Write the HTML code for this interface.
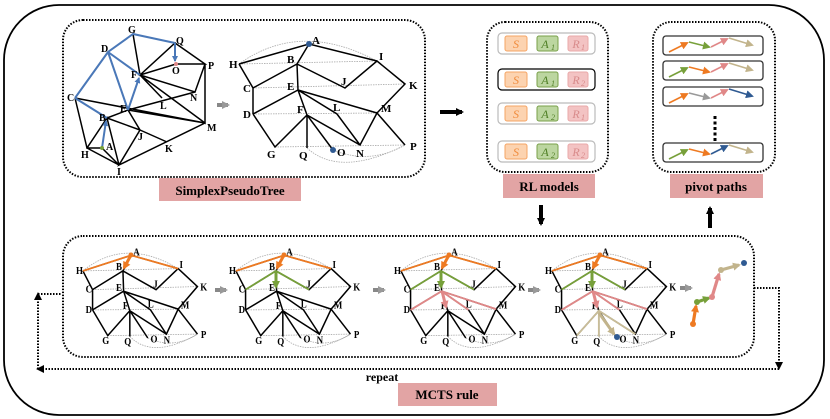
<!DOCTYPE html>
<html><head><meta charset="utf-8"><style>
html,body{margin:0;padding:0;background:#fff}
svg{display:block}
text{font-family:"Liberation Serif",serif;font-weight:bold}
</style></head><body>
<svg width="830" height="419" viewBox="0 0 830 419" xmlns="http://www.w3.org/2000/svg">
<defs>
<marker id="ab" markerWidth="8" markerHeight="8" refX="6" refY="4" orient="auto" markerUnits="userSpaceOnUse"><path d="M0,0 L8,4 L0,8 z" fill="#000"/></marker>
<marker id="mblue" markerWidth="6" markerHeight="6" refX="5" refY="3" orient="auto" markerUnits="userSpaceOnUse"><path d="M0,0 L6,3 L0,6 z" fill="#4a78b8"/></marker>
<marker id="mor" markerWidth="8" markerHeight="8" refX="6" refY="4" orient="auto" markerUnits="userSpaceOnUse"><path d="M0,0 L8,4 L0,8 z" fill="#ee7a22"/></marker>
<marker id="mgr" markerWidth="8" markerHeight="8" refX="6" refY="4" orient="auto" markerUnits="userSpaceOnUse"><path d="M0,0 L8,4 L0,8 z" fill="#77a03a"/></marker>
<marker id="mpk" markerWidth="8" markerHeight="8" refX="6" refY="4" orient="auto" markerUnits="userSpaceOnUse"><path d="M0,0 L8,4 L0,8 z" fill="#e08888"/></marker>
<marker id="mtn" markerWidth="8" markerHeight="8" refX="6" refY="4" orient="auto" markerUnits="userSpaceOnUse"><path d="M0,0 L8,4 L0,8 z" fill="#c2b48c"/></marker>
<marker id="mgy" markerWidth="8" markerHeight="8" refX="6" refY="4" orient="auto" markerUnits="userSpaceOnUse"><path d="M0,0 L8,4 L0,8 z" fill="#999"/></marker>
<marker id="mbl" markerWidth="8" markerHeight="8" refX="6" refY="4" orient="auto" markerUnits="userSpaceOnUse"><path d="M0,0 L8,4 L0,8 z" fill="#2f5a92"/></marker>

<g id="tree">
 <g stroke="#aaa" stroke-width="0.8" fill="none" stroke-dasharray="1.5 1">
  <path d="M239,64 L377,61 M253,88 L405,84 M253,114 L377,113 M275,147 L405,145" vector-effect="non-scaling-stroke"/>
  <path d="M239,64 Q300,20 377,61" vector-effect="non-scaling-stroke"/>
  <path d="M307,148 Q340,178 405,145 M333,150 Q370,165 405,145" vector-effect="non-scaling-stroke"/>
 </g>
 <g stroke="#000" stroke-width="1.5" fill="none">
  <path vector-effect="non-scaling-stroke" d="M239,64 L309,44 L377,61 M309,44 L297,64 M239,64 L253,88 L253,114 M297,64 L253,88 M297,64 L298,90 M297,64 L345,88 L377,61 L405,84 L377,113 M298,90 L253,114 M298,90 L307,115 M298,90 L337,114 L360,145 M298,90 L377,113 M253,114 L275,147 L307,115 M307,115 L307,148 M307,115 L333,150 M307,115 L360,145 L377,113 L405,145"/>
 </g>
 <g fill="#000">
  <text x="312" y="44">A</text><text x="379" y="60">I</text><text x="229" y="68">H</text><text x="287" y="63">B</text>
  <text x="341" y="85">J</text><text x="409" y="89">K</text><text x="243" y="92">C</text><text x="287" y="90">E</text>
  <text x="243" y="118">D</text><text x="297" y="113">F</text><text x="333" y="111">L</text><text x="381" y="112">M</text>
  <text x="267" y="158">G</text><text x="299" y="159">Q</text><text x="337" y="156">O</text><text x="356" y="157">N</text><text x="410" y="150">P</text>
 </g>
</g>
</defs>

<!-- outer frame -->
<rect x="4" y="5" width="820" height="410" rx="55" fill="none" stroke="#000" stroke-width="1.8"/>

<!-- top-left dotted box -->
<rect x="63" y="20" width="362" height="157" rx="20" fill="none" stroke="#000" stroke-width="2" stroke-dasharray="1.5 1.5"/>
<rect x="159" y="178" width="142" height="23" fill="#e2a4a4"/>
<text x="230" y="195" font-size="13" text-anchor="middle">SimplexPseudoTree</text>

<!-- left graph -->
<g stroke="#000" stroke-width="1.5" fill="none">
 <path d="M133,34 L140,75 L175,43 L205,64 L176,64 L140,75 L195,92 L205,64 L205,123 L140,75 M140,75 L162,98 M75,98 L205,123 M128,110 L195,92 M75,98 L87,148 L102,148 L119,165 L87,148 L107,118 L119,165 M107,118 L128,110 L140,130 L119,165 L205,123 M107,118 L140,130 M128,110 L205,123 M140,130 L167,142"/>
</g>
<g stroke="#4a78b8" stroke-width="2" fill="none">
 <path d="M75,98 L108,52 L133,34 L175,43 M108,52 L128,110 M108,52 L140,75 M75,98 L107,118"/>
 <path d="M175,43 L175,61" marker-end="url(#mblue)"/>
 <path d="M128,110 L139,78" marker-end="url(#mblue)"/>
 <path d="M102,148 L106,121" marker-end="url(#mblue)"/>
</g>
<circle cx="176" cy="64" r="2" fill="#e08888"/><circle cx="102" cy="148" r="2" fill="#77a03a"/>
<g font-size="10"><text x="128" y="33">G</text><text x="101" y="52">D</text><text x="176" y="44">Q</text><text x="172" y="74">O</text><text x="208" y="69">P</text><text x="131" y="78">F</text><text x="67" y="101">C</text><text x="120" y="112">E</text><text x="160" y="109">L</text><text x="190" y="101">N</text><text x="207" y="131">M</text><text x="99" y="121">B</text><text x="106" y="150">A</text><text x="81" y="158">H</text><text x="117" y="175">I</text><text x="138" y="140">J</text><text x="165" y="152">K</text></g>

<!-- gray arrow -->
<path d="M217,105 L228,105" stroke="#888" stroke-width="4" marker-end="url(#mgy)"/>

<!-- top middle tree -->
<use href="#tree" font-size="11"/>
<circle cx="309" cy="44" r="3" fill="#2f5a92"/><circle cx="333" cy="150" r="3" fill="#2f5a92"/>

<!-- black arrows -->
<path d="M440,112 L462,112" stroke="#000" stroke-width="4" marker-end="url(#ab)"/>
<path d="M541,205 L541,224" stroke="#000" stroke-width="4" marker-end="url(#ab)"/>
<path d="M710,228 L710,208" stroke="#000" stroke-width="4" marker-end="url(#ab)"/>

<!-- RL models -->
<rect x="487" y="22" width="121" height="150" rx="18" fill="none" stroke="#000" stroke-width="2" stroke-dasharray="1.5 1.5"/>
<rect x="498" y="33" width="97" height="21" rx="4" fill="#fff" stroke="#bbb" stroke-width="1.2"/>
<rect x="498" y="69" width="97" height="21" rx="4" fill="#fff" stroke="#000" stroke-width="1.2"/>
<rect x="498" y="103" width="97" height="21" rx="4" fill="#fff" stroke="#bbb" stroke-width="1.2"/>
<rect x="498" y="141" width="97" height="21" rx="4" fill="#fff" stroke="#bbb" stroke-width="1.2"/>
<g style="font-weight:normal;font-style:italic" font-size="12">
 <g>
  <rect x="505" y="36" width="22" height="15" rx="2" fill="#fcd3b0" stroke="#f5a464"/><text x="516" y="48" text-anchor="middle" fill="#f08a3a" style="font-weight:normal">S</text>
  <rect x="537" y="36" width="21" height="15" rx="2" fill="#bcd6a0" stroke="#7aa04a"/><text x="545" y="48" text-anchor="middle" fill="#4f7f25" style="font-weight:normal">A</text><text x="551" y="50" font-size="8" fill="#4f7f25" style="font-weight:normal">1</text>
  <rect x="568" y="36" width="20" height="15" rx="2" fill="#f3c3c3" stroke="#eaa8a8"/><text x="576" y="48" text-anchor="middle" fill="#d88a8a" style="font-weight:normal">R</text><text x="581" y="50" font-size="8" fill="#d88a8a" style="font-weight:normal">1</text>
 </g>
 <g transform="translate(0,36)">
  <rect x="505" y="36" width="22" height="15" rx="2" fill="#fcd3b0" stroke="#f5a464"/><text x="516" y="48" text-anchor="middle" fill="#f08a3a" style="font-weight:normal">S</text>
  <rect x="537" y="36" width="21" height="15" rx="2" fill="#bcd6a0" stroke="#7aa04a"/><text x="545" y="48" text-anchor="middle" fill="#4f7f25" style="font-weight:normal">A</text><text x="551" y="50" font-size="8" fill="#4f7f25" style="font-weight:normal">1</text>
  <rect x="568" y="36" width="20" height="15" rx="2" fill="#f3c3c3" stroke="#eaa8a8"/><text x="576" y="48" text-anchor="middle" fill="#d88a8a" style="font-weight:normal">R</text><text x="581" y="50" font-size="8" fill="#d88a8a" style="font-weight:normal">2</text>
 </g>
 <g transform="translate(0,70)">
  <rect x="505" y="36" width="22" height="15" rx="2" fill="#fcd3b0" stroke="#f5a464"/><text x="516" y="48" text-anchor="middle" fill="#f08a3a" style="font-weight:normal">S</text>
  <rect x="537" y="36" width="21" height="15" rx="2" fill="#bcd6a0" stroke="#7aa04a"/><text x="545" y="48" text-anchor="middle" fill="#4f7f25" style="font-weight:normal">A</text><text x="551" y="50" font-size="8" fill="#4f7f25" style="font-weight:normal">2</text>
  <rect x="568" y="36" width="20" height="15" rx="2" fill="#f3c3c3" stroke="#eaa8a8"/><text x="576" y="48" text-anchor="middle" fill="#d88a8a" style="font-weight:normal">R</text><text x="581" y="50" font-size="8" fill="#d88a8a" style="font-weight:normal">1</text>
 </g>
 <g transform="translate(0,108)">
  <rect x="505" y="36" width="22" height="15" rx="2" fill="#fcd3b0" stroke="#f5a464"/><text x="516" y="48" text-anchor="middle" fill="#f08a3a" style="font-weight:normal">S</text>
  <rect x="537" y="36" width="21" height="15" rx="2" fill="#bcd6a0" stroke="#7aa04a"/><text x="545" y="48" text-anchor="middle" fill="#4f7f25" style="font-weight:normal">A</text><text x="551" y="50" font-size="8" fill="#4f7f25" style="font-weight:normal">2</text>
  <rect x="568" y="36" width="20" height="15" rx="2" fill="#f3c3c3" stroke="#eaa8a8"/><text x="576" y="48" text-anchor="middle" fill="#d88a8a" style="font-weight:normal">R</text><text x="581" y="50" font-size="8" fill="#d88a8a" style="font-weight:normal">2</text>
 </g>
</g>
<rect x="503" y="174" width="92" height="24" fill="#e2a4a4"/>
<text x="549" y="191" font-size="13" text-anchor="middle">RL models</text>

<!-- pivot paths -->
<rect x="653" y="22" width="122" height="150" rx="18" fill="none" stroke="#000" stroke-width="2" stroke-dasharray="1.5 1.5"/>
<g fill="none" stroke="#333" stroke-width="1.3">
 <rect x="663" y="36" width="100" height="19" rx="3"/><rect x="663" y="61" width="100" height="19" rx="3"/>
 <rect x="663" y="87" width="100" height="19" rx="3"/><rect x="663" y="143" width="100" height="19" rx="3"/>
</g>
<g fill="none" stroke-width="1.6">
 <g><path d="M669,52 L687,43" stroke="#ee7a22" marker-end="url(#mor)"/><path d="M689,42 L709,47" stroke="#77a03a" marker-end="url(#mgr)"/><path d="M711,47 L727,39" stroke="#e08888" marker-end="url(#mpk)"/><path d="M729,38 L752,45" stroke="#c2b48c" marker-end="url(#mtn)"/></g>
 <g transform="translate(0,25)"><path d="M669,52 L687,43" stroke="#77a03a" marker-end="url(#mgr)"/><path d="M689,42 L709,47" stroke="#ee7a22" marker-end="url(#mor)"/><path d="M711,47 L727,39" stroke="#e08888" marker-end="url(#mpk)"/><path d="M729,38 L752,45" stroke="#c2b48c" marker-end="url(#mtn)"/></g>
 <g transform="translate(0,51)"><path d="M669,52 L687,43" stroke="#ee7a22" marker-end="url(#mor)"/><path d="M689,42 L709,47" stroke="#999" marker-end="url(#mgy)"/><path d="M711,47 L727,39" stroke="#e08888" marker-end="url(#mpk)"/><path d="M729,38 L752,45" stroke="#2f5a92" marker-end="url(#mbl)"/></g>
 <g transform="translate(0,107)"><path d="M669,52 L687,43" stroke="#77a03a" marker-end="url(#mgr)"/><path d="M689,42 L709,47" stroke="#ee7a22" marker-end="url(#mor)"/><path d="M711,47 L727,39" stroke="#2f5a92" marker-end="url(#mbl)"/><path d="M729,38 L752,45" stroke="#c2b48c" marker-end="url(#mtn)"/></g>
</g>
<path d="M715,116 L715,141" stroke="#000" stroke-width="3" stroke-dasharray="3 2.5"/>
<rect x="670" y="174" width="93" height="24" fill="#e2a4a4"/>
<text x="716" y="191" font-size="13" text-anchor="middle">pivot paths</text>

<!-- bottom dotted box -->
<rect x="63" y="236" width="691" height="121" rx="20" fill="none" stroke="#000" stroke-width="2" stroke-dasharray="1.5 1.5"/>

<!-- bottom trees -->
<g transform="translate(-82,221) scale(0.69,0.78)" font-size="13">
 <use href="#tree"/>
 <path d="M239,64 L309,44 L377,61" stroke="#ee7a22" stroke-width="1.8" fill="none" vector-effect="non-scaling-stroke"/>
</g>
<g transform="translate(71,221) scale(0.69,0.78)" font-size="13">
 <use href="#tree"/>
 <path d="M239,64 L309,44 L377,61" stroke="#ee7a22" stroke-width="1.8" fill="none" vector-effect="non-scaling-stroke"/>
 <path d="M253,88 L297,64 L345,88" stroke="#77a03a" stroke-width="1.8" fill="none" vector-effect="non-scaling-stroke"/>
</g>
<g transform="translate(236,221) scale(0.69,0.78)" font-size="13">
 <use href="#tree"/>
 <path d="M239,64 L309,44 L377,61" stroke="#ee7a22" stroke-width="1.8" fill="none" vector-effect="non-scaling-stroke"/>
 <path d="M253,88 L297,64 L345,88" stroke="#77a03a" stroke-width="1.8" fill="none" vector-effect="non-scaling-stroke"/>
 <path d="M253,114 L298,90 L337,114 M298,90 L377,113" stroke="#e08888" stroke-width="1.8" fill="none" vector-effect="non-scaling-stroke"/>
</g>
<g transform="translate(387,221) scale(0.69,0.78)" font-size="13">
 <use href="#tree"/>
 <path d="M239,64 L309,44 L377,61" stroke="#ee7a22" stroke-width="1.8" fill="none" vector-effect="non-scaling-stroke"/>
 <path d="M253,88 L297,64 L345,88" stroke="#77a03a" stroke-width="1.8" fill="none" vector-effect="non-scaling-stroke"/>
 <path d="M253,114 L298,90 L337,114 M298,90 L377,113" stroke="#e08888" stroke-width="1.8" fill="none" vector-effect="non-scaling-stroke"/>
 <path d="M275,147 L307,115 L307,148 M307,115 L360,145" stroke="#c9bd98" stroke-width="1.8" fill="none" vector-effect="non-scaling-stroke"/>
</g>
<!-- thick arrows in bottom trees -->
<g fill="none" stroke-width="3">
 <g><circle cx="131" cy="255" r="2.5" fill="#ee7a22" stroke="none"/><path d="M131,255 L124,268" stroke="#ee7a22" marker-end="url(#mor)"/></g>
 <g transform="translate(153,0)"><circle cx="131" cy="255" r="2.5" fill="#ee7a22" stroke="none"/><path d="M131,255 L124,268" stroke="#ee7a22" marker-end="url(#mor)"/><path d="M123,271 L123,287" stroke="#77a03a" marker-end="url(#mgr)"/></g>
 <g transform="translate(318,0)"><circle cx="131" cy="255" r="2.5" fill="#ee7a22" stroke="none"/><path d="M131,255 L124,268" stroke="#ee7a22" marker-end="url(#mor)"/><path d="M123,271 L123,287" stroke="#77a03a" marker-end="url(#mgr)"/><path d="M124,291 L128,307" stroke="#e08888" marker-end="url(#mpk)"/></g>
 <g transform="translate(469,0)"><circle cx="131" cy="255" r="2.5" fill="#ee7a22" stroke="none"/><path d="M131,255 L124,268" stroke="#ee7a22" marker-end="url(#mor)"/><path d="M123,271 L123,287" stroke="#77a03a" marker-end="url(#mgr)"/><path d="M124,291 L128,307" stroke="#e08888" marker-end="url(#mpk)"/><path d="M130,313 L145,334" stroke="#c2b48c" marker-end="url(#mtn)"/><circle cx="148" cy="337" r="3" fill="#2f5a92" stroke="none"/></g>
</g>

<!-- gray arrows bottom -->
<g stroke="#888" stroke-width="4"><path d="M215,290 L226,290" marker-end="url(#mgy)"/><path d="M373,290 L384,290" marker-end="url(#mgy)"/><path d="M528,290 L539,290" marker-end="url(#mgy)"/><path d="M680,288 L691,288" marker-end="url(#mgy)"/></g>

<!-- resulting path -->
<g fill="none" stroke-width="3.2">
 <path d="M693,324 L696,306" stroke="#ee7a22" marker-end="url(#mor)"/>
 <path d="M697,302 L709,298" stroke="#77a03a" marker-end="url(#mgr)"/>
 <path d="M712,297 L719,274" stroke="#e08888" marker-end="url(#mpk)"/>
 <path d="M721,270 L739,265" stroke="#c2b48c" marker-end="url(#mtn)"/>
</g>
<circle cx="693" cy="324" r="3" fill="#ee7a22"/><circle cx="697" cy="302" r="3" fill="#77a03a"/><circle cx="712" cy="297" r="3" fill="#e08888"/><circle cx="721" cy="270" r="3" fill="#c2b48c"/><circle cx="744" cy="263" r="3" fill="#2f5a92"/>

<!-- repeat loop -->
<g fill="none" stroke="#000" stroke-width="2" stroke-dasharray="1.5 1.5">
 <path d="M754,288 L779,288 L779,362"/>
 <path d="M779,369 L44,369"/>
 <path d="M38,369 L38,300"/>
 <path d="M38,294 L62,294"/>
</g>
<path d="M775,362 L783,362 L779,370 z" fill="#000"/>
<path d="M44,365 L44,373 L36,369 z" fill="#000"/>
<path d="M34,300 L42,300 L38,292 z" fill="#000"/>
<text x="382" y="381" font-size="12" text-anchor="middle">repeat</text>
<rect x="398" y="383" width="99" height="23" fill="#e2a4a4"/>
<text x="447" y="399" font-size="13" text-anchor="middle">MCTS rule</text>
</svg>
</body></html>
